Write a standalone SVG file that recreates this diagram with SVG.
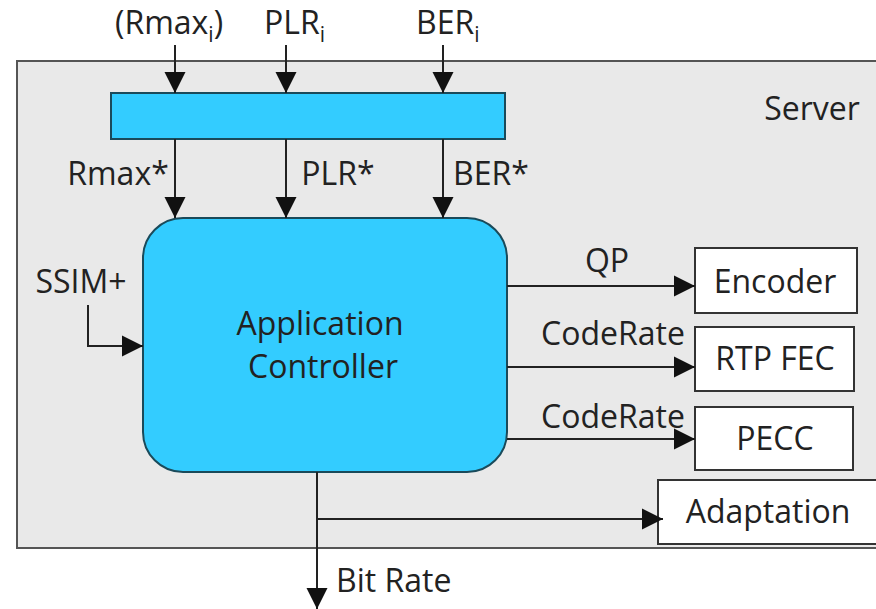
<svg xmlns="http://www.w3.org/2000/svg" width="876" height="609" viewBox="0 0 876 609">
  <defs>
    <marker id="arrow" markerUnits="userSpaceOnUse" markerWidth="22" markerHeight="22" refX="21" refY="11" orient="auto">
      <path d="M0,0.5 L21,11 L0,21.5 z" fill="#111"/>
    </marker>
    <style>
      text { font-family: "Open Sans", "Noto Sans", sans-serif; font-size: 32px; fill: #222; }
      .mid { text-anchor: middle; }
      .sub { font-size: 21px; }
      .wire { fill: none; stroke: #222; stroke-width: 2; }
      .arr { marker-end: url(#arrow); }
      .box { fill: #fff; stroke: #333; stroke-width: 2; }
      .blue { fill: #33ccff; stroke: #1a4a5a; stroke-width: 2; }
    </style>
  </defs>

  <!-- Server frame -->
  <g id="server">
    <rect x="17" y="61" width="870" height="487" fill="#e9e9e9" stroke="#555" stroke-width="2"/>
    <text x="812" y="120" class="mid">Server</text>
  </g>

  <!-- Input aggregation bar -->
  <g id="aggregator">
    <rect x="111" y="93" width="394" height="46" class="blue"/>
  </g>

  <!-- Application controller -->
  <g id="controller">
    <rect x="143" y="218" width="364" height="254" rx="40" ry="40" class="blue"/>
    <text x="320" y="335" class="mid">Application</text>
    <text x="323" y="378" class="mid">Controller</text>
  </g>

  <g id="encoder">
    <rect x="695" y="248" width="162" height="65" class="box"/>
    <text x="775" y="293" class="mid">Encoder</text>
  </g>
  <g id="rtpfec">
    <rect x="695" y="327" width="159" height="64" class="box"/>
    <text x="775" y="370" class="mid">RTP FEC</text>
  </g>
  <g id="pecc">
    <rect x="695" y="407" width="158" height="63" class="box"/>
    <text x="775" y="450" class="mid">PECC</text>
  </g>
  <g id="adaptation">
    <rect x="658" y="480" width="230" height="64" class="box"/>
    <text x="768" y="523" class="mid">Adaptation</text>
  </g>

  <!-- Connectors -->
  <g id="connectors">
    <line x1="175" y1="45" x2="175" y2="93" class="wire arr"/>
    <line x1="286" y1="45" x2="286" y2="93" class="wire arr"/>
    <line x1="443" y1="45" x2="443" y2="93" class="wire arr"/>
    <line x1="175" y1="139" x2="175" y2="218" class="wire arr"/>
    <line x1="286" y1="139" x2="286" y2="218" class="wire arr"/>
    <line x1="443" y1="139" x2="443" y2="218" class="wire arr"/>
    <polyline points="88,305 88,346 143,346" class="wire arr"/>
    <line x1="507" y1="286" x2="695" y2="286" class="wire arr"/>
    <line x1="507" y1="367" x2="695" y2="367" class="wire arr"/>
    <line x1="507" y1="439" x2="695" y2="439" class="wire arr"/>
    <line x1="317" y1="472" x2="317" y2="609" class="wire arr"/>
    <line x1="317" y1="519" x2="663" y2="519" class="wire arr"/>
  </g>

  <!-- Connector labels -->
  <g id="labels">
    <text x="115" y="34">(Rmax<tspan class="sub" dy="8">i</tspan><tspan dy="-8">)</tspan></text>
    <text x="264" y="34">PLR<tspan class="sub" dy="8">i</tspan></text>
    <text x="416" y="34">BER<tspan class="sub" dy="8">i</tspan></text>
    <text x="118" y="185" class="mid">Rmax*</text>
    <text x="338" y="185" class="mid">PLR*</text>
    <text x="491" y="185" class="mid">BER*</text>
    <text x="81" y="293" class="mid">SSIM+</text>
    <text x="607" y="272" class="mid">QP</text>
    <text x="613" y="345" class="mid">CodeRate</text>
    <text x="613" y="428" class="mid">CodeRate</text>
    <text x="336" y="592">Bit Rate</text>
  </g>
</svg>
